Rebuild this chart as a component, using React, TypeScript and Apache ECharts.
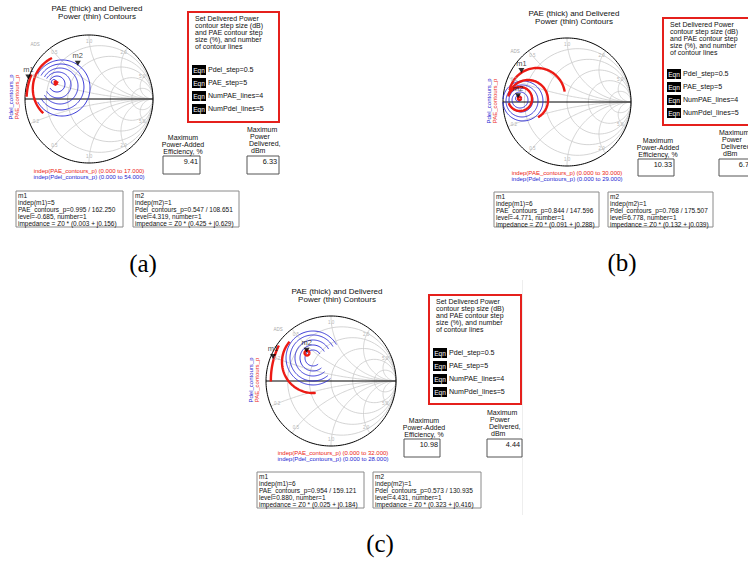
import React, { useEffect, useRef } from "react";
import * as echarts from "echarts";

const SANS = '"Liberation Sans", Arial, sans-serif';
const SERIF = '"Liberation Serif", "DejaVu Serif", serif';

// ---------------- data ----------------
const panelLabels = ["(a)", "(b)", "(c)"];
const titleLines = ["PAE (thick) and Delivered", "Power (thin) Contours"];
const noteLines = [
  "Set Delivered Power",
  "contour step size (dB)",
  "and PAE contour step",
  "size (%), and number",
  "of contour lines",
];
const eqnLines = ["Pdel_step=0.5", "PAE_step=5", "NumPAE_lines=4", "NumPdel_lines=5"];
const paeMaxLabel = ["Maximum", "Power-Added", "Efficiency, %"];
const pdelMaxLabel = ["Maximum", "Power", "Delivered,", "dBm"];
const maxPAE = ["9.41", "10.33", "10.98"];
const maxPdel = ["6.33", "6.78", "4.44"];
const paeIndepMax = [17, 30, 32];
const pdelIndepMax = [54, 29, 28];

const m1Indep = [5, 6, 6];
const m1Mag = [0.995, 0.844, 0.954];
const m1Ang = [162.25, 147.596, 159.121];
const m1Level = [-0.685, -4.771, 0.88];
const m1Z = [[0.003, 0.156], [0.091, 0.288], [0.025, 0.184]];

const m2Indep = [1, 1, 1];
const m2Mag = [0.547, 0.768, 0.573];
const m2Ang = [108.651, 175.507, 130.935];
const m2Level = [4.319, 6.778, 4.431];
const m2Z = [[0.425, 0.629], [0.132, 0.039], [0.323, 0.416]];

// Smith chart grid values (normalized resistance / reactance)
const smithValues = [0.2, 0.5, 1, 2, 5];

// contours as arcs in reflection-coefficient plane: [centerRe, centerIm, radius, startDeg, endDeg, steps?]
const paeA = [
  [-0.516, 0.25, 0.035, 0, 360, 3],
  [-0.345, 0.161, 0.533, 116, 226],
  [0, 0, 0.975, 157, 178],
];
const pdelA = [
  [-0.547, 0.266, 0.039, 0, 360],
  [-0.5, 0.234, 0.125, -150, 150],
  [-0.484, 0.219, 0.203, -150, 150],
  [-0.453, 0.203, 0.281, -150, 150],
  [-0.438, 0.188, 0.359, -150, 150],
  [-0.422, 0.172, 0.438, -150, 150],
];
const paeB = [
  [-0.742, 0.055, 0.025, 0, 360],
  [-0.734, 0.047, 0.1875, 160, -160],
  [-0.609, 0.031, 0.3125, 170, -60],
  [-0.469, 0.094, 0.4375, 168, 9],
];
const pdelB = [
  [-0.758, 0.055, 0.047, 0, 360],
  [-0.734, 0.031, 0.125, 0, 360],
  [-0.719, 0.031, 0.1875, 0, 360],
  [-0.703, 0.016, 0.25, 0, 360],
  [-0.688, 0.016, 0.3125, 0, 360],
];
const paeC = [
  [-0.369, 0.431, 0.038, 0, 360],
  [-0.277, 0.292, 0.477, 139, 275],
  [0.29, 0.015, 1.215, 154, 181],
];
const pdelC = [
  [-0.277, 0.354, 0.123, 30, 310],
  [-0.277, 0.354, 0.2, 30, 310],
  [-0.277, 0.354, 0.277, 30, 310],
  [-0.277, 0.354, 0.354, 30, 310],
  [-0.277, 0.354, 0.415, 30, 310],
];
const paeContours = [paeA, paeB, paeC];
const pdelContours = [pdelA, pdelB, pdelC];

// ---------------- layout ----------------
const layout = [
  { cx: 89, cy: 99, R: 64, titleX: 97, titleY: 8, ads: [35, 44], vertX: [11, 16.5], vertY: 97, botX: 89, botY: 171,
    box: [188, 12, 91, 110], eqnY: [70, 83, 96, 109], paeBox: [163, 156, 37, 18], pdelBox: [247, 156, 32, 18],
    mBox: [[16, 191, 107, 36], [133, 191, 106, 36]], lab: [143, 263] },
  { cx: 567, cy: 102, R: 64, titleX: 574, titleY: 13, ads: [515, 51], vertX: [489, 494.5], vertY: 101, botX: 567, botY: 173,
    box: [663, 18, 95, 107], eqnY: [74, 87, 100, 113], paeBox: [638, 159, 36, 17], pdelBox: [719, 159, 36, 17],
    mBox: [[494, 192, 105, 35], [608, 192, 105, 35]], lab: [622, 262] },
  { cx: 331, cy: 381, R: 65, titleX: 337, titleY: 291, ads: [278, 329], vertX: [251, 256.5], vertY: 380, botX: 333, botY: 453,
    box: [429, 295, 92, 109], eqnY: [353, 366, 379, 392], paeBox: [404, 439, 36, 18], pdelBox: [487, 439, 35, 18],
    mBox: [[257, 472, 107, 36], [373, 472, 108, 36]], lab: [380, 543] },
];

const BLUE = "#2626d2";
const RED = "#ec1a14";
const GRID = "#c9c9c9";

function arcSegments(a: number[]): number[][][] {
  const [gx, gy, r, a0, a1, steps] = a;
  const n = steps || 120;
  const segs: number[][][] = [];
  let cur: number[][] = [];
  for (let i = 0; i <= n; i++) {
    const t = ((a0 + ((a1 - a0) * i) / n) * Math.PI) / 180;
    const x = gx + r * Math.cos(t);
    const y = gy + r * Math.sin(t);
    if (x * x + y * y <= 1.0002) cur.push([x, y]);
    else {
      if (cur.length > 1) segs.push(cur);
      cur = [];
    }
  }
  if (cur.length > 1) segs.push(cur);
  return segs;
}

function smithGrid(): number[][][] {
  const segs: number[][][] = [];
  for (const r of smithValues) segs.push(...arcSegments([r / (1 + r), 0, 1 / (1 + r), 0, 360, 90]));
  for (const x of smithValues) {
    for (const s of [1, -1]) {
      const xv = s * x;
      const cyc = 1 / xv;
      const rad = 1 / x;
      const start = (Math.atan2(-cyc, 0) * 180) / Math.PI;
      const ex = (xv * xv - 1) / (1 + xv * xv);
      const ey = (2 * xv) / (1 + xv * xv);
      let end = (Math.atan2(ey - cyc, ex - 1) * 180) / Math.PI;
      if (s > 0) { while (end > start) end -= 360; } else { while (end < start) end += 360; }
      segs.push(...arcSegments([1, cyc, rad, start, end, 90]));
    }
  }
  return segs;
}

function txt(x: number, y: number, text: string, o: any = {}) {
  const size = o.size || 7;
  return {
    type: "text",
    x,
    y,
    rotation: o.rot || 0,
    silent: true,
    z: 20,
    style: {
      text,
      fill: o.fill || "#111",
      font: `${size}px ${o.family || SANS}`,
      align: o.align || "left",
      textAlign: o.align || "left",
      verticalAlign: o.va || "middle",
      textVerticalAlign: o.va || "middle",
    },
  };
}

function rect(x: number, y: number, w: number, h: number, style: any) {
  return { type: "rect", silent: true, z: 15, shape: { x, y, width: w, height: h }, style };
}

function buildOption() {
  const grid: any[] = [];
  const xAxis: any[] = [];
  const yAxis: any[] = [];
  const series: any[] = [];
  const elements: any[] = [];
  const gridSegs = smithGrid();

  layout.forEach((L, i) => {
    grid.push({ left: L.cx - L.R, top: L.cy - L.R, width: 2 * L.R, height: 2 * L.R, show: false });
    xAxis.push({ gridIndex: i, type: "value", min: -1, max: 1, show: false });
    yAxis.push({ gridIndex: i, type: "value", min: -1, max: 1, show: false });

    const line = (data: number[][], color: string, width: number, z: number) => ({
      type: "line", xAxisIndex: i, yAxisIndex: i, data, showSymbol: false, symbol: "none",
      lineStyle: { color, width }, silent: true, clip: false, z, animation: false,
    });

    gridSegs.forEach((s) => series.push(line(s, GRID, 0.8, 1)));
    arcSegments([0, 0, 1, 0, 360, 180]).forEach((s) => series.push(line(s, "#000", 1, 2)));
    series.push(line([[-1, 0], [1, 0]], "#000", 1, 2));
    pdelContours[i].forEach((c) => arcSegments(c).forEach((s) => series.push(line(s, BLUE, 0.9, 3))));
    paeContours[i].forEach((c) => arcSegments(c).forEach((s) => series.push(line(s, RED, 2.4, 4))));

    const pt = (m: number, a: number) => [m * Math.cos((a * Math.PI) / 180), m * Math.sin((a * Math.PI) / 180)];
    series.push({
      type: "scatter", xAxisIndex: i, yAxisIndex: i, z: 6, silent: true,
      symbol: "triangle", symbolRotate: 180, symbolSize: [6, 5], symbolOffset: [0, -2.5],
      itemStyle: { color: "#000" },
      label: { show: true, position: "top", distance: 1, formatter: (p: any) => p.name, color: "#111", fontSize: 7.5, fontFamily: SANS },
      data: [
        { name: "m1", value: pt(m1Mag[i], m1Ang[i]) },
        { name: "m2", value: pt(m2Mag[i], m2Ang[i]) },
      ],
    });

    // Smith chart tick labels
    smithValues.forEach((x) => {
      [1, -1].forEach((s) => {
        const xv = s * x;
        const gx = ((xv * xv - 1) / (1 + xv * xv)) * 0.9;
        const gy = ((2 * xv) / (1 + xv * xv)) * 0.9;
        elements.push(txt(L.cx + gx * L.R, L.cy - gy * L.R, x.toFixed(1), { size: 4.5, fill: "#b5b5b5", align: "center" }));
      });
    });

    // titles
    titleLines.forEach((t, k) => elements.push(txt(L.titleX, L.titleY + 8 * k, t, { size: 8, align: "center" })));
    elements.push(txt(L.ads[0], L.ads[1], "ADS", { size: 4.5, fill: "#aaa", align: "center" }));
    elements.push(txt(L.vertX[0], L.vertY, "Pdel_contours_p", { size: 6, fill: BLUE, align: "center", rot: Math.PI / 2 }));
    elements.push(txt(L.vertX[1], L.vertY, "PAE_contours_p", { size: 6, fill: RED, align: "center", rot: Math.PI / 2 }));
    elements.push(txt(L.botX, L.botY, `indep(PAE_contours_p) (0.000 to ${paeIndepMax[i].toFixed(3)})`, { size: 6, fill: RED, align: "center" }));
    elements.push(txt(L.botX, L.botY + 6, `indep(Pdel_contours_p) (0.000 to ${pdelIndepMax[i].toFixed(3)})`, { size: 6, fill: BLUE, align: "center" }));

    // red note box
    const [bx, by, bw, bh] = L.box;
    elements.push(rect(bx, by, bw, bh, { fill: "none", stroke: "#e5201c", lineWidth: 2 }));
    noteLines.forEach((t, k) => elements.push(txt(bx + 7, by + 6.5 + 7 * k, t, { size: 7 })));
    eqnLines.forEach((t, k) => {
      const yy = L.eqnY[k];
      elements.push(rect(bx + 4, yy - 5, 14, 10, { fill: "#000", stroke: "none" }));
      elements.push(txt(bx + 11, yy, "Eqn", { size: 6.6, fill: "#fff", align: "center" }));
      elements.push(txt(bx + 20, yy, t, { size: 7.1 }));
    });

    // maximum PAE box
    const [px, py, pw, ph] = L.paeBox;
    paeMaxLabel.forEach((t, k) => elements.push(txt(px + 20, py - 19 + 7 * k, t, { size: 7 , align: "center" })));
    elements.push(rect(px, py, pw, ph, { fill: "none", stroke: "#555", lineWidth: 1 }));
    elements.push(txt(px + pw - 2, py + 5, maxPAE[i], { size: 7.3, align: "right" }));

    // maximum Pdel box
    const [qx, qy, qw, qh] = L.pdelBox;
    const offs = [0, 3, 2, 4];
    pdelMaxLabel.forEach((t, k) => elements.push(txt(qx + offs[k], qy - 27 + 7 * k, t, { size: 7 })));
    elements.push(rect(qx, qy, qw, qh, { fill: "none", stroke: "#555", lineWidth: 1 }));
    elements.push(txt(qx + qw - 2, qy + 5, maxPdel[i], { size: 7.3, align: "right" }));

    // marker readouts
    const m1Text = [
      "m1",
      `indep(m1)=${m1Indep[i]}`,
      `PAE_contours_p=${m1Mag[i].toFixed(3)} / ${m1Ang[i].toFixed(3)}`,
      `level=${m1Level[i].toFixed(3)}, number=1`,
      `impedance = Z0 * (${m1Z[i][0].toFixed(3)} + j${m1Z[i][1].toFixed(3)})`,
    ];
    const m2Text = [
      "m2",
      `indep(m2)=${m2Indep[i]}`,
      `Pdel_contours_p=${m2Mag[i].toFixed(3)} / ${m2Ang[i].toFixed(3)}`,
      `level=${m2Level[i].toFixed(3)}, number=1`,
      `impedance = Z0 * (${m2Z[i][0].toFixed(3)} + j${m2Z[i][1].toFixed(3)})`,
    ];
    [m1Text, m2Text].forEach((lines, j) => {
      const [mx, my, mw, mh] = L.mBox[j];
      elements.push(rect(mx, my, mw, mh, { fill: "none", stroke: "#8a8a8a", lineWidth: 1 }));
      lines.forEach((t, k) => elements.push(txt(mx + 2, my + 4 + 7 * k, t, { size: 6.5 })));
    });

    elements.push(txt(L.lab[0], L.lab[1], panelLabels[i], { size: 25, family: SERIF, align: "center", fill: "#000" }));
  });

  elements.push({ type: "line", silent: true, shape: { x1: 522.5, y1: 280, x2: 522.5, y2: 515 }, style: { stroke: "#eeeeee", lineWidth: 1 } });

  return {
    animation: false,
    backgroundColor: "#fff",
    grid,
    xAxis,
    yAxis,
    series,
    graphic: { elements },
  };
}

export default function App() {
  const ref = useRef<HTMLDivElement>(null);
  useEffect(() => {
    if (!ref.current) return;
    const chart = echarts.init(ref.current, undefined, { renderer: "svg" });
    chart.setOption(buildOption() as any);
    return () => chart.dispose();
  }, []);
  return (
    <div
      ref={ref}
      style={{ position: "fixed", left: 0, top: 0, width: 748, height: 563, background: "#fff" }}
    />
  );
}
